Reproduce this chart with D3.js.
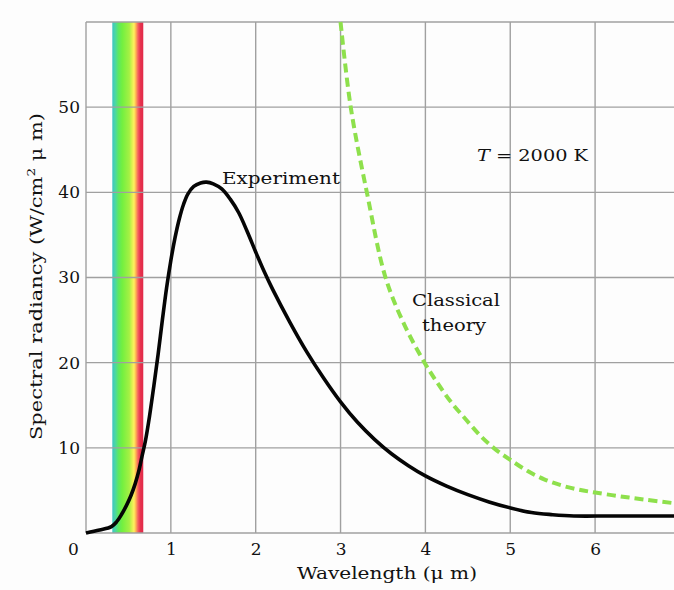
<!DOCTYPE html>
<html>
<head>
<meta charset="utf-8">
<script src="https://cdn.jsdelivr.net/npm/d3@7"></script>
<style>
  body { margin: 0; background: #fdfdfd; }
  text { font-family: 'DejaVu Serif', 'Liberation Serif', serif; fill: #111; }
</style>
</head>
<body>
<svg id="chart" width="674" height="590"></svg>
<script>
const W = 674, H = 590
const plotLeft = 86, plotTop = 22, plotBottom = 533

// wavelength (um) / radiancy
const expX = [0, 0.16, 0.3, 0.36, 0.42, 0.48, 0.53, 0.58, 0.62, 0.66, 0.7, 0.75, 0.8, 0.85, 0.9, 0.95, 1.0, 1.05, 1.1, 1.15, 1.2, 1.27, 1.35, 1.42, 1.5, 1.6, 1.7, 1.8, 1.9, 2.0, 2.1, 2.2, 2.4, 2.6, 2.8, 3.0, 3.2, 3.4, 3.6, 3.8, 4.0, 4.25, 4.5, 4.75, 5.0, 5.25, 5.5, 5.75, 6.2, 6.93]
const expY = [0, 0.35, 0.75, 1.3, 2.2, 3.3, 4.4, 5.8, 7.2, 9.0, 10.8, 13.8, 17.3, 21.0, 25.0, 28.8, 32.0, 34.7, 36.9, 38.6, 39.8, 40.7, 41.1, 41.2, 41.0, 40.4, 39.2, 37.6, 35.4, 33.0, 30.7, 28.6, 24.8, 21.3, 18.2, 15.4, 13.0, 11.0, 9.3, 7.9, 6.7, 5.5, 4.5, 3.65, 2.95, 2.4, 2.15, 2.0, 2.0, 2.0]

const clsX = [3.0, 3.12, 3.31, 3.53, 3.75, 3.99, 4.13, 4.3, 4.48, 4.66, 4.84, 5.0, 5.2, 5.4, 5.6, 5.8, 6.0, 6.3, 6.6, 6.93]
const clsY = [60, 50, 40, 30, 24.5, 20, 17.8, 15.4, 13.3, 11.3, 9.7, 8.6, 7.3, 6.3, 5.6, 5.1, 4.75, 4.3, 3.9, 3.5]

const xTicks = [0, 1, 2, 3, 4, 5, 6]
const yTicks = [10, 20, 30, 40, 50]
const yGrid = [10, 20, 30, 40, 50, 60]
const visible = [0.31, 0.675]

const x = d3.scaleLinear().domain([0, 6.93]).range([plotLeft, W])
const y = d3.scaleLinear().domain([0, 60]).range([plotBottom, plotTop])

const svg = d3.select('#chart')

// rainbow band
const grad = svg.append('defs').append('linearGradient')
  .attr('id', 'rainbow').attr('x1', '0%').attr('x2', '100%')
const stops = [[0, '#3ec4c4'], [0.1, '#4cd8a0'], [0.2, '#5ee860'], [0.32, '#72f040'], [0.55, '#a6f044'], [0.64, '#e0f050'], [0.7, '#fff060'], [0.76, '#ffb452'], [0.83, '#f46060'], [0.9, '#e8344e'], [1, '#e02848']]
grad.selectAll('stop').data(stops).enter().append('stop')
  .attr('offset', d => d[0]).attr('stop-color', d => d[1])

svg.append('rect')
  .attr('x', x(visible[0]))
  .attr('y', y(60))
  .attr('width', x(visible[1]) - x(visible[0]))
  .attr('height', y(0) - y(60))
  .style('fill', 'url(#rainbow)')

// grid
svg.append('g').selectAll('line').data(xTicks).enter().append('line')
  .attr('x1', d => x(d)).attr('x2', d => x(d))
  .attr('y1', y(0)).attr('y2', y(60))
  .attr('stroke', '#a0a0a0').attr('stroke-width', 1.4)

svg.append('g').selectAll('line').data([0].concat(yGrid)).enter().append('line')
  .attr('x1', x(0)).attr('x2', W)
  .attr('y1', d => y(d)).attr('y2', d => y(d))
  .attr('stroke', '#a0a0a0').attr('stroke-width', 1.4)

// axes labels
const xAxis = svg.append('g')
  .attr('transform', `translate(0,${plotBottom})`)
  .call(d3.axisBottom(x).tickValues(xTicks).tickSize(0).tickPadding(10).tickFormat(d3.format('d')))
xAxis.select('.domain').remove()
xAxis.selectAll('text').style('font-size', '17px').attr('font-family', null)
xAxis.selectAll('.tick').filter(d => d === 0).select('text').attr('x', -13)

const yAxis = svg.append('g')
  .attr('transform', `translate(${plotLeft},0)`)
  .call(d3.axisLeft(y).tickValues(yTicks).tickSize(0).tickPadding(6))
yAxis.select('.domain').remove()
yAxis.selectAll('text').style('font-size', '17px').attr('font-family', null)

// curves
const line = d3.line().x(d => x(d[0])).y(d => y(d[1])).curve(d3.curveCatmullRom.alpha(0.5))

svg.append('path')
  .datum(clsX.map((v, i) => [v, clsY[i]]))
  .attr('d', line)
  .attr('fill', 'none')
  .attr('stroke', '#8ee04c')
  .attr('stroke-width', 4)
  .attr('stroke-dasharray', '9,5')

svg.append('path')
  .datum(expX.map((v, i) => [v, expY[i]]))
  .attr('d', line)
  .attr('fill', 'none')
  .attr('stroke', '#050505')
  .attr('stroke-width', 3.6)
  .attr('stroke-linejoin', 'round')

// annotations
svg.append('text').attr('x', 222).attr('y', 184)
  .style('font-size', '17px').attr('textLength', 118).attr('lengthAdjust', 'spacingAndGlyphs')
  .text('Experiment')

const tk = svg.append('text').attr('x', 477).attr('y', 161)
  .style('font-size', '17px').attr('textLength', 111).attr('lengthAdjust', 'spacingAndGlyphs')
tk.append('tspan').style('font-style', 'italic').text('T')
tk.append('tspan').text(' = 2000 K')

svg.append('text').attr('x', 412).attr('y', 306)
  .style('font-size', '17px').attr('textLength', 88).attr('lengthAdjust', 'spacingAndGlyphs')
  .text('Classical')
svg.append('text').attr('x', 422).attr('y', 331)
  .style('font-size', '17px').attr('textLength', 64).attr('lengthAdjust', 'spacingAndGlyphs')
  .text('theory')

svg.append('text').attr('x', 297).attr('y', 579)
  .style('font-size', '17px').attr('textLength', 180).attr('lengthAdjust', 'spacingAndGlyphs')
  .text('Wavelength (μ m)')

const yt = svg.append('text')
  .attr('transform', 'translate(42,440) rotate(-90)')
  .style('font-size', '17px').attr('textLength', 327).attr('lengthAdjust', 'spacingAndGlyphs')
yt.append('tspan').text('Spectral radiancy (W/cm')
yt.append('tspan').attr('dy', -7).style('font-size', '11px').text('2')
yt.append('tspan').attr('dy', 7).text(' μ m)')
</script>
</body>
</html>
